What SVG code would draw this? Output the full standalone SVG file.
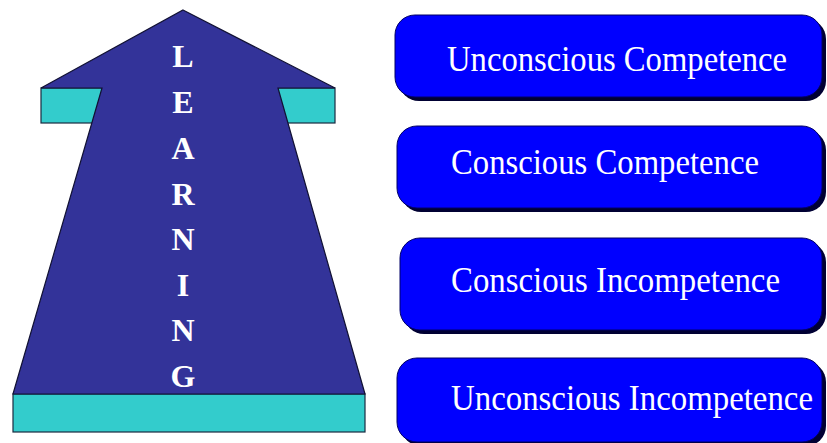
<svg xmlns="http://www.w3.org/2000/svg" width="827" height="443" viewBox="0 0 827 443">
<style>
.cy{fill:#33CCCC;stroke:#1a2a40;stroke-width:1.2}
.ar{fill:#333399;stroke:#111133;stroke-width:1.2}
.lt{font-family:"Liberation Serif",serif;font-weight:bold;font-size:32px;fill:#ffffff;text-anchor:middle}
.sh{fill:#000033}
.bx{fill:#0000FF;stroke:#000066;stroke-width:1}
.tx{font-family:"Liberation Serif",serif;font-size:35px;fill:#ffffff}
</style>
<rect width="827" height="443" fill="#ffffff"/>
<g id="arrow">
<rect class="cy" x="41" y="88" width="62" height="35"/>
<rect class="cy" x="277" y="88" width="58" height="35"/>
<rect class="cy" x="13" y="394" width="352" height="38"/>
<polygon class="ar" points="183,10 335,88 278,88 365,394 13,394 102,88 41,88"/>
<text class="lt" x="183" y="67">L</text>
<text class="lt" x="183" y="113">E</text>
<text class="lt" x="183" y="159">A</text>
<text class="lt" x="183" y="205">R</text>
<text class="lt" x="183" y="250">N</text>
<text class="lt" x="183" y="296">I</text>
<text class="lt" x="183" y="341">N</text>
<text class="lt" x="183" y="387">G</text>
</g>
<g id="box1">
<rect class="sh" x="399" y="19" width="427" height="82" rx="20"/>
<rect class="bx" x="395" y="15" width="427" height="82" rx="20"/>
<text class="tx" x="447" y="71" textLength="340" lengthAdjust="spacingAndGlyphs">Unconscious Competence</text>
</g>
<g id="box2">
<rect class="sh" x="401" y="130" width="425" height="82" rx="20"/>
<rect class="bx" x="397" y="126" width="425" height="82" rx="20"/>
<text class="tx" x="451" y="174" textLength="308" lengthAdjust="spacingAndGlyphs">Conscious Competence</text>
</g>
<g id="box3">
<rect class="sh" x="404" y="242" width="422" height="92" rx="20"/>
<rect class="bx" x="400" y="238" width="422" height="92" rx="20"/>
<text class="tx" x="451" y="292" textLength="329" lengthAdjust="spacingAndGlyphs">Conscious Incompetence</text>
</g>
<g id="box4">
<rect class="sh" x="401" y="362" width="425" height="84" rx="20"/>
<rect class="bx" x="397" y="358" width="425" height="84" rx="20"/>
<text class="tx" x="451" y="410" textLength="362" lengthAdjust="spacingAndGlyphs">Unconscious Incompetence</text>
</g>
<g id="connectors"></g>
</svg>
